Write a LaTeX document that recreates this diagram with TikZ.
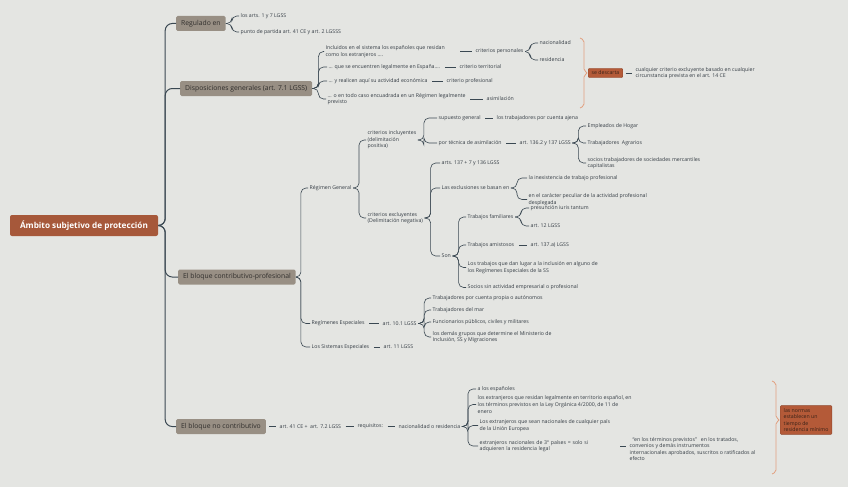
\documentclass[tikz,border=0pt]{standalone}
\usepackage{fontspec}
\setmainfont{Open Sans}
\usetikzlibrary{positioning}
\definecolor{paper}{RGB}{228,229,226}
\definecolor{inkline}{RGB}{58,72,82}
\definecolor{inktext}{RGB}{52,60,68}
\definecolor{topicfill}{RGB}{152,143,132}
\definecolor{topictext}{RGB}{48,46,44}
\definecolor{rootfill}{RGB}{166,88,58}
\definecolor{notefill}{RGB}{180,90,56}
\definecolor{notetext}{RGB}{58,34,24}
\definecolor{bracecol}{RGB}{226,160,128}
\tikzset{
  rootbox/.style={fill=rootfill, text=white, rounded corners=2pt,
    font=\bfseries\fontsize{8.2}{10}\selectfont, minimum width=148pt, minimum height=21pt},
  topic/.style={anchor=west, fill=topicfill, text=topictext, rounded corners=1.5pt,
    font=\fontsize{6.8}{8}\selectfont, inner xsep=5pt, minimum height=15pt},
  leaf/.style={anchor=west, align=left, text=inktext, font=\fontsize{5.2}{6.6}\selectfont, inner sep=1.5pt},
  notebox/.style={anchor=west, align=left, fill=notefill, draw=notefill!80!black, text=notetext,
    rounded corners=1pt, font=\fontsize{5.2}{6.6}\selectfont, inner xsep=3.5pt, inner ysep=2.5pt},
  link/.style={draw=inkline, line width=0.6pt, rounded corners=5pt},
  trunk/.style={link, line width=1pt, rounded corners=7pt},
  stub/.style={link, shorten <=3pt, shorten >=2pt},
  brace/.style={draw=bracecol, line width=0.8pt, rounded corners=2pt},
}
\begin{document}
\begin{tikzpicture}[x=1pt, y=-1pt]
  \fill[paper] (0,0) rectangle (848,487);
  \useasboundingbox (0,0) rectangle (848,487);
  % root and main topics
  \node[rootbox] (root) at (84,225.5) {Ámbito subjetivo de protección};
  \node[topic] (reg) at (176,23.5) {Regulado en};
  \node[topic] (disp) at (180,88.5) {Disposiciones generales (art. 7.1 LGSS)};
  \node[topic] (contrib) at (178,277) {El bloque contributivo-profesional};
  \node[topic] (nocontrib) at (176,426.5) {El bloque no contributivo};
  \foreach \c in {reg,disp,contrib,nocontrib}
    \draw[trunk] (root.east) -- ++(7,0) |- (\c.west);

  % regulado en
  \node[leaf] (reg1) at (239,16) {los arts. 1 y 7 LGSS};
  \node[leaf] (reg2) at (239,32) {punto de partida art. 41 CE y art. 2 LGSSS};
  \foreach \c in {reg1,reg2}
    \draw[link] (reg.east) -- ++(6,0) |- (\c.west);

  % disposiciones generales
  \node[leaf] (inc) at (324,51.5) {Incluidos en el sistema los españoles que residan\\como los extranjeros ....};
  \node[leaf] (leg) at (327,67) {... que se encuentren legalmente en España....};
  \node[leaf] (act) at (327,81) {... y realicen aquí su actividad económica};
  \node[leaf] (enc) at (326,99) {... o en todo caso encuadrada en un Régimen legalmente\\previsto};
  \foreach \c in {inc,leg,act,enc}
    \draw[link] (disp.east) -- ++(6,0) |- (\c.west);
  \node[leaf] (pers) at (474,51.5) {criterios personales};
  \node[leaf] (terr) at (458,67) {criterio territorial};
  \node[leaf] (prof) at (445,81) {criterio profesional};
  \node[leaf] (asim) at (485,99) {asimilación};
  \draw[stub, shorten <=14pt] (inc.east) -- (pers.west);
  \foreach \p/\c in {leg/terr,act/prof,enc/asim}
    \draw[stub] (\p.east) -- (\c.west);
  \node[leaf] (nac) at (538,43) {nacionalidad};
  \node[leaf] (res) at (538,60) {residencia};
  \foreach \c in {nac,res}
    \draw[link] (pers.east) -- ++(5,0) |- (\c.west);

  % summary: se descarta
  \coordinate (tip1) at (588,73);
  \draw[brace] (580,38) -- (584,40) -- (584,71) -- (tip1) -- (584,75) -- (584,106) -- (580,108);
  \node[notebox] (desc) at (tip1) {se descarta};
  \node[leaf] (cual) at (634,73) {cualquier criterio excluyente basado en cualquier\\circunstancia prevista en el art. 14 CE};
  \draw[stub] (desc.east) -- (cual.west);

  % bloque contributivo
  \node[leaf] (rg) at (308,188) {Régimen General};
  \node[leaf] (resp) at (310,323.5) {Regímenes Especiales};
  \node[leaf] (sist) at (310,347) {Los Sistemas Especiales};
  \foreach \c in {rg,resp,sist}
    \draw[link] (contrib.east) -- ++(5,0) |- (\c.west);
  \node[leaf] (incl) at (366,140) {criterios incluyentes\\(delimitación\\positiva)};
  \node[leaf] (excl) at (366,218) {criterios excluyentes\\(Delimitación negativa)};
  \foreach \c in {incl,excl}
    \draw[link] (rg.east) -- ++(6,0) |- (\c.west);

  % criterios incluyentes
  \node[leaf] (sup) at (437,118) {supuesto general};
  \node[leaf] (ajena) at (495,118) {los trabajadores por cuenta ajena};
  \node[leaf] (tec) at (437,143) {por técnica de asimilación};
  \node[leaf] (a1362) at (518,143) {art. 136.2 y 137 LGSS};
  \foreach \c in {sup,tec}
    \draw[link] (incl.east) -- ++(6,0) |- (\c.west);
  \draw[stub] (sup.east) -- (ajena.west);
  \draw[stub] (tec.east) -- (a1362.west);
  \node[leaf] (hogar) at (586,126) {Empleados de Hogar};
  \node[leaf] (agr) at (586,143) {Trabajadores\ \ Agrarios};
  \node[leaf] (soc) at (586,163) {socios trabajadores de sociedades mercantiles\\capitalistas};
  \foreach \c in {hogar,agr,soc}
    \draw[link] (a1362.east) -- ++(6,0) |- (\c.west);

  % criterios excluyentes
  \node[leaf] (a137) at (440,163) {arts. 137 + 7 y 136 LGSS};
  \node[leaf] (basan) at (440,188) {Las exclusiones se basan en};
  \node[leaf] (son) at (440,256) {Son};
  \foreach \c in {a137,basan,son}
    \draw[link] (excl.east) -- ++(6,0) |- (\c.west);
  \node[leaf] (inex) at (527,178) {la inexistencia de trabajo profesional};
  \node[leaf] (pecu) at (527,199.5) {en el carácter peculiar de la actividad profesional\\desplegada};
  \foreach \c in {inex,pecu}
    \draw[link] (basan.east) -- ++(6,0) |- (\c.west);
  \node[leaf] (fam) at (466,217) {Trabajos familiares};
  \node[leaf] (amis) at (466,245) {Trabajos amistosos};
  \node[leaf] (incre) at (466,267.5) {Los trabajos que dan lugar a la inclusión en alguno de\\los Regímenes Especiales de la SS};
  \node[leaf] (socios) at (466,287.5) {Socios sin actividad empresarial o profesional};
  \foreach \c in {fam,amis,incre,socios}
    \draw[link] (son.east) -- ++(6,0) |- (\c.west);
  \node[leaf] (iuris) at (529,208) {presunción iuris tantum};
  \node[leaf] (a12) at (529,226) {art. 12 LGSS};
  \foreach \c in {iuris,a12}
    \draw[link] (fam.east) -- ++(6,0) |- (\c.west);
  \node[leaf] (a137a) at (529,245) {art. 137.a) LGSS};
  \draw[stub] (amis.east) -- (a137a.west);

  % regimenes y sistemas especiales
  \node[leaf] (a101) at (381,323.5) {art. 10.1 LGSS};
  \draw[stub] (resp.east) -- (a101.west);
  \node[leaf] (auto) at (431,298) {Trabajadores por cuenta propia o autónomos};
  \node[leaf] (mar) at (431,310) {Trabajadores del mar};
  \node[leaf] (func) at (431,322) {Funcionarios públicos, civiles y militares};
  \node[leaf] (demas) at (431,337) {los demás grupos que determine el Ministerio de\\Inclusión, SS y Migraciones};
  \foreach \c in {auto,mar,func,demas}
    \draw[link] (a101.east) -- ++(6,0) |- (\c.west);
  \node[leaf] (a11) at (382,347) {art. 11 LGSS};
  \draw[stub] (sist.east) -- (a11.west);

  % bloque no contributivo
  \node[leaf] (a41) at (278,426.5) {art. 41 CE +\ \ art. 7.2 LGSS};
  \node[leaf] (req) at (356,426.5) {requisitos:};
  \node[leaf] (nacres) at (397,426.5) {nacionalidad o residencia};
  \draw[stub] (nocontrib.east) -- (a41.west);
  \draw[stub] (a41.east) -- (req.west);
  \draw[stub] (req.east) -- (nacres.west);
  \node[leaf] (esp) at (476,389) {a los españoles};
  \node[leaf] (extr) at (476,404.5) {los extranjeros que residan legalmente en territorio español, en\\los términos previstos en la Ley Orgánica 4/2000, de 11 de\\enero};
  \node[leaf] (ue) at (478,425.5) {Los extranjeros que sean nacionales de cualquier país\\de la Unión Europea};
  \node[leaf, text width=136pt] (terc) at (478,446) {extranjeros nacionales de 3º países = solo si\\adquieren la residencia legal};
  \foreach \c in {esp,extr,ue,terc}
    \draw[link] (nacres.east) -- ++(6,0) |- (\c.west);
  \node[leaf] (conv) at (628,449) {\hspace{3pt}“en los términos previstos”\ \ \ en los tratados,\\convenios y demás instrumentos\\internacionales aprobados, suscritos o ratificados al\\efecto};
  \draw[stub] (terc.east) -- (terc.east -| conv.west);

  % summary: tiempo de residencia
  \coordinate (tip2) at (780,420);
  \draw[brace] (772,381) -- (776,383) -- (776,418) -- (tip2) -- (776,422) -- (776,472) -- (772,474);
  \node[notebox] (tiempo) at (tip2) {las normas\\establecen un\\tiempo de\\residencia mínimo};
\end{tikzpicture}
\end{document}
